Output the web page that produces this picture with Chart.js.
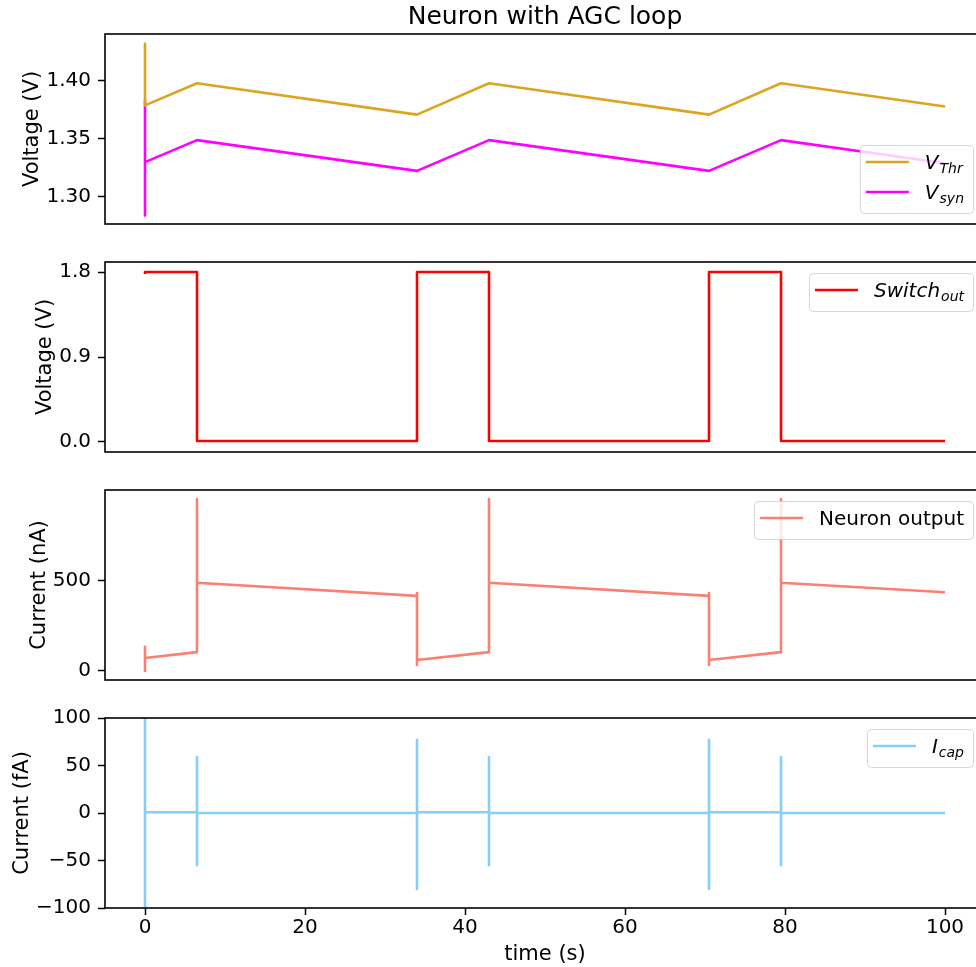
<!DOCTYPE html>
<html>
<head>
<meta charset="utf-8">
<script src="https://cdn.jsdelivr.net/npm/chart.js@4.4.1/dist/chart.umd.min.js"></script>
<style>
  html, body { margin: 0; padding: 0; overflow: hidden; background: #fff; }
  #page { position: relative; width: 976px; height: 967px; overflow: hidden; }
  .panel { position: absolute; left: 0; width: 1000px; }
</style>
</head>
<body>
<div id="page">
  <div class="panel" style="top:0px"><canvas id="c1" width="1000" height="243"></canvas></div>
  <div class="panel" style="top:243px"><canvas id="c2" width="1000" height="228"></canvas></div>
  <div class="panel" style="top:471px"><canvas id="c3" width="1000" height="228"></canvas></div>
  <div class="panel" style="top:699px"><canvas id="c4" width="1000" height="268"></canvas></div>
</div>
<script>
/* ======================
   DATA
====================== */
const timeTicks = [0, 20, 40, 60, 80, 100];

// threshold + synapse voltage (V)
const vThrTime = [0, 0, 6.5, 34, 43, 70.5, 79.5, 100];
const vThrValues = [1.432, 1.379, 1.398, 1.371, 1.398, 1.371, 1.398, 1.378];
const vSynTime = [0, 0, 0, 6.5, 34, 43, 70.5, 79.5, 100];
const vSynValues = [1.383, 1.284, 1.330, 1.349, 1.3225, 1.349, 1.3225, 1.349, 1.329];
const voltTicks = [1.30, 1.35, 1.40];
const voltTickLabels = ["1.30", "1.35", "1.40"];

// switch output (V)
const switchTime = [0, 0, 6.5, 6.5, 34, 34, 43, 43, 70.5, 70.5, 79.5, 79.5, 100];
const switchValues = [1.78, 1.8, 1.8, 0.01, 0.01, 1.8, 1.8, 0.01, 0.01, 1.8, 1.8, 0.01, 0.01];
const switchTicks = [0, 0.9, 1.8];
const switchTickLabels = ["0.0", "0.9", "1.8"];

// neuron output (nA)
const neuronTime = [0, 0, 0, 6.5, 6.5, 6.5, 34, 34, 34, 34, 43, 43, 43, 70.5, 70.5, 70.5, 70.5, 79.5, 79.5, 79.5, 100];
const neuronValues = [135, 0, 72, 105, 955, 490, 417, 433, 33, 61, 105, 955, 490, 417, 433, 33, 61, 105, 955, 490, 437];
const neuronTicks = [0, 500];
const neuronTickLabels = ["0", "500"];

// capacitor current (fA)
const icapTime = [0, 0, 0, 6.5, 6.5, 6.5, 6.5, 34, 34, 34, 34, 43, 43, 43, 43, 70.5, 70.5, 70.5, 70.5, 79.5, 79.5, 79.5, 79.5, 100];
const icapValues = [140, -140, 0.8, 0.8, 59, -55, 0, 0, 77, -80, 0.8, 0.8, 59, -55, 0, 0, 77, -80, 0.8, 0.8, 59, -55, 0, 0];
const icapTicks = [-100, -50, 0, 50, 100];
const icapTickLabels = ["\u2212100", "\u221250", "0", "50", "100"];

/* ======================
   DEFAULTS
====================== */
Chart.defaults.font.family = "'DejaVu Sans', sans-serif";
Chart.defaults.color = "#000";
Chart.defaults.animation = false;

const FONT = "'DejaVu Sans', sans-serif";
const LINE_W = 2.6;
const pts = (ts, vs) => ts.map((t, i) => ({ x: t, y: vs[i] }));

/* ---------- frame round the plot ---------- */
const framePlugin = {
  id: "frame",
  afterDatasetsDraw(chart) {
    const { ctx, chartArea: a } = chart;
    ctx.save();
    ctx.strokeStyle = "#000";
    ctx.lineWidth = 1.6;
    ctx.strokeRect(a.left, a.top, a.right - a.left, a.bottom - a.top);
    ctx.restore();
  }
};

/* ---------- legend with subscripts ---------- */
const mathLegend = {
  id: "mathLegend",
  afterDraw(chart, args, opts) {
    const items = opts.items || [];
    if (!items.length) return;
    const { ctx, chartArea: a } = chart;
    const fs = 20, sfs = 14;

    ctx.save();
    const widths = items.map(it => {
      ctx.font = `${it.italic ? "italic " : ""}${fs}px ${FONT}`;
      let w = ctx.measureText(it.main).width;
      if (it.sub) {
        ctx.font = `${it.italic ? "italic " : ""}${sfs}px ${FONT}`;
        w += ctx.measureText(it.sub).width + 1;
      }
      return w;
    });
    const textW = Math.max(...widths);
    const w = 6 + 43 + 16 + textW + 9;
    const h = 17 + (items.length - 1) * 30 + 21;
    const x = a.right - 12 - w;
    const y = opts.where === "bottom" ? a.bottom - 11 - h : a.top + 11;

    ctx.beginPath();
    ctx.roundRect(x + 0.5, y + 0.5, w, h, 4);
    ctx.fillStyle = "rgba(255,255,255,0.8)";
    ctx.fill();
    ctx.strokeStyle = "rgba(204,204,204,0.8)";
    ctx.lineWidth = 1;
    ctx.stroke();

    items.forEach((it, i) => {
      const ry = y + 17 + i * 30;
      const ds = chart.data.datasets[i];
      ctx.beginPath();
      ctx.moveTo(x + 6, ry);
      ctx.lineTo(x + 49, ry);
      ctx.strokeStyle = ds.borderColor;
      ctx.lineWidth = LINE_W;
      ctx.stroke();

      const tx = x + 65;
      ctx.fillStyle = "#000";
      ctx.textBaseline = "alphabetic";
      ctx.textAlign = "left";
      ctx.font = `${it.italic ? "italic " : ""}${fs}px ${FONT}`;
      ctx.fillText(it.main, tx, ry + 7);
      if (it.sub) {
        const mw = ctx.measureText(it.main).width;
        ctx.font = `${it.italic ? "italic " : ""}${sfs}px ${FONT}`;
        ctx.fillText(it.sub, tx + mw + 1, ry + 11);
      }
    });
    ctx.restore();
  }
};

/* ======================
   PANEL BUILDER
====================== */
function yAxis(title, titlePad, min, max, ticks, labels) {
  return {
    min, max,
    afterFit: s => { s.width = 105; },
    afterBuildTicks: s => { s.ticks = ticks.map(v => ({ value: v })); },
    ticks: {
      font: { size: 20 },
      padding: 7,
      callback: (v, i) => labels[i]
    },
    grid: { drawOnChartArea: false, drawTicks: true, tickLength: 7, tickWidth: 1.5, tickColor: "#000" },
    border: { display: false },
    title: { display: true, text: title, font: { size: 21 }, padding: { top: titlePad, bottom: 0 } }
  };
}

function xAxis(show) {
  const ax = { type: "linear", min: -5, max: 105, display: show };
  if (!show) return ax;
  return {
    ...ax,
    afterFit: s => { s.height = 59; },
    afterBuildTicks: s => { s.ticks = timeTicks.map(v => ({ value: v })); },
    ticks: { font: { size: 20 }, padding: 1, maxRotation: 0 },
    grid: { drawOnChartArea: false, drawTicks: true, tickLength: 7, tickWidth: 1.5, tickColor: "#000" },
    border: { display: false },
    title: { display: true, text: "time (s)", font: { size: 21 }, padding: { top: 0, bottom: 0 } }
  };
}

function line(label, ts, vs, color) {
  return {
    label,
    data: pts(ts, vs),
    borderColor: color,
    backgroundColor: color,
    borderWidth: LINE_W,
    pointRadius: 0,
    tension: 0,
    borderJoinStyle: "round",
    fill: false
  };
}

function makeChart(id, datasets, y, x, pad, legend, title) {
  return new Chart(document.getElementById(id), {
    type: "line",
    data: { datasets },
    options: {
      responsive: false,
      devicePixelRatio: 1,
      parsing: false,
      layout: { padding: pad },
      scales: { x, y },
      plugins: {
        legend: { display: false },
        tooltip: { enabled: false },
        title: title || { display: false },
        mathLegend: legend
      }
    },
    plugins: [framePlugin, mathLegend]
  });
}

/* ======================
   CHARTS
====================== */
makeChart("c1",
  [line("V_Thr", vThrTime, vThrValues, "#DAA520"),
   line("V_syn", vSynTime, vSynValues, "#FF00FF")],
  yAxis("Voltage (V)", 20, 1.2767, 1.4405, voltTicks, voltTickLabels),
  xAxis(false),
  { top: 0, bottom: 19, left: 0, right: 15 },
  { where: "bottom", items: [{ main: "V", sub: "Thr", italic: true }, { main: "V", sub: "syn", italic: true }] },
  { display: true, text: "Neuron with AGC loop", fullSize: false, font: { size: 25, weight: "normal" }, color: "#000", padding: { top: 2, bottom: 2 } }
);

makeChart("c2",
  [line("Switch_out", switchTime, switchValues, "#FF0000")],
  yAxis("Voltage (V)", 33, -0.106, 1.906, switchTicks, switchTickLabels),
  xAxis(false),
  { top: 19, bottom: 19, left: 0, right: 15 },
  { where: "top", items: [{ main: "Switch", sub: "out", italic: true }] }
);

makeChart("c3",
  [line("Neuron output", neuronTime, neuronValues, "#FA8072")],
  yAxis("Current (nA)", 27, -50, 1005, neuronTicks, neuronTickLabels),
  xAxis(false),
  { top: 19, bottom: 19, left: 0, right: 15 },
  { where: "top", items: [{ main: "Neuron output", italic: false }] }
);

makeChart("c4",
  [line("I_cap", icapTime, icapValues, "#87CEFA")],
  yAxis("Current (fA)", 10, -100, 100, icapTicks, icapTickLabels),
  xAxis(true),
  { top: 19, bottom: 0, left: 0, right: 15 },
  { where: "top", items: [{ main: "I", sub: "cap", italic: true }] }
);
</script>
</body>
</html>
